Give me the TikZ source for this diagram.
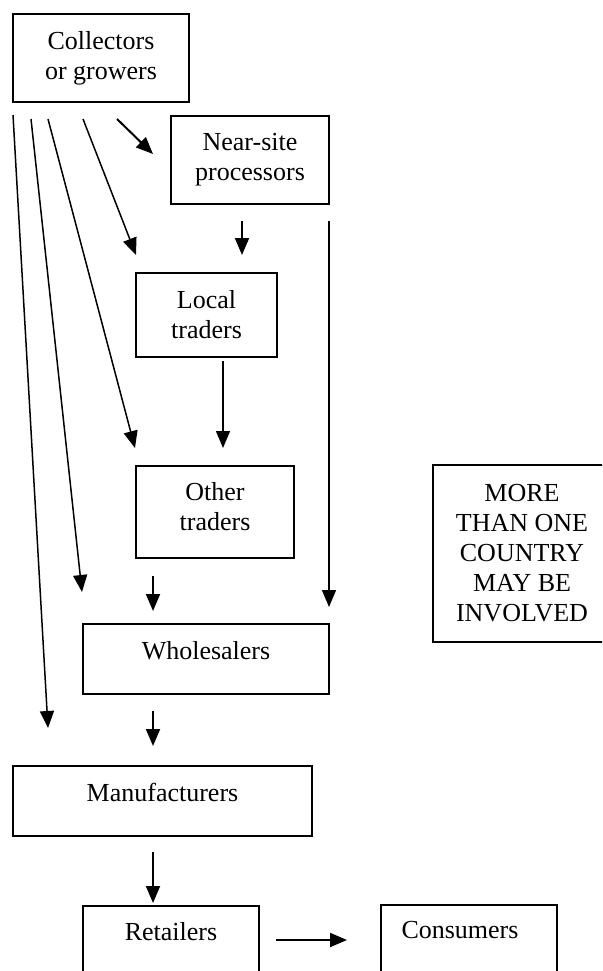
\documentclass[tikz,border=0pt]{standalone}
\usepackage{fontspec}
\setmainfont{Liberation Serif}
\usetikzlibrary{arrows.meta}
\begin{document}
\begin{tikzpicture}[x=1pt,y=-1pt,
  every node/.style={font=\fontsize{26}{30}\selectfont},
  box/.style={draw, line width=1.8pt, inner sep=0pt, align=center},
  topbox/.style={box, text height=35pt, text depth=35pt},
  arr/.style={-{Triangle[length=17pt,width=14pt]}, line width=1.5pt},
  sarr/.style={-{Triangle[length=17pt,width=14pt]}, line width=2pt}]
\useasboundingbox (0,0) rectangle (602,971);
\clip (0,0) rectangle (602,971);
% boxes
\node[box, minimum width=176pt, minimum height=88pt] (coll) at (101,58) {Collectors\\or growers};
\node[box, minimum width=158pt, minimum height=88pt] (ns) at (250,160) {Near-site\\processors};
\node[box, minimum width=141pt, minimum height=84pt] (lt) at (206.5,315) {Local\\traders};
\node[box, minimum width=158pt, minimum height=92pt, text height=46pt, text depth=10pt] (ot) at (215,512) {Other\\traders};
\node[box, draw=none, minimum width=266pt, minimum height=175pt,
      label={[align=center, xshift=-45pt]center:MORE\\THAN ONE\\COUNTRY\\MAY BE\\INVOLVED}] (more) at (567,553.5) {};
\draw[line width=1.8pt] (more.north east) -- (more.north west) -- (more.south west) -- (more.south east);
\node[topbox, minimum width=246pt, minimum height=70pt] (wh) at (206,659) {Wholesalers};
\node[topbox, minimum width=299pt, minimum height=70pt] (man) at (162.5,801) {Manufacturers};
\node[topbox, minimum width=176pt, minimum height=70pt, text height=34pt, text depth=36pt] (ret) at (171,941) {Retailers};
\node[topbox, minimum width=176pt, minimum height=70pt, text height=33pt, text depth=37pt] (con) at (469,940) {Consumers\hspace*{18pt}};
% arrow end points
\coordinate (a1s) at (13,115);  \coordinate (a1e) at (48,728);
\coordinate (a2s) at (31,119);  \coordinate (a2e) at (82,592);
\coordinate (a3s) at (48,119);  \coordinate (a3e) at (135,448);
\coordinate (a4s) at (83,119);  \coordinate (a4e) at (136,255);
\coordinate (a5s) at (117,119); \coordinate (a5e) at (153,154);
\coordinate (nlts) at (242,221); \coordinate (nlte) at (242,255);
\coordinate (ltos) at (223,361); \coordinate (ltoe) at (223,448);
\coordinate (nwls) at (329,221); \coordinate (nwle) at (329,607);
\coordinate (otws) at (153,576); \coordinate (otwe) at (153,611);
\coordinate (whms) at (153,711); \coordinate (whme) at (153,746);
\coordinate (mrs) at (153,852);  \coordinate (mre) at (153,903);
\coordinate (rcs) at (276,940);  \coordinate (rce) at (347,940);
% connectors
\draw[arr] (a1s) -- (a1e);
\draw[arr] (a2s) -- (a2e);
\draw[arr] (a3s) -- (a3e);
\draw[arr] (a4s) -- (a4e);
\draw[sarr] (a5s) -- (a5e);
\draw[sarr] (nlts) -- (nlte);
\draw[arr] (ltos) -- (ltoe);
\draw[arr] (nwls) -- (nwle);
\draw[sarr] (otws) -- (otwe);
\draw[sarr] (whms) -- (whme);
\draw[sarr] (mrs) -- (mre);
\draw[sarr] (rcs) -- (rce);
\end{tikzpicture}
\end{document}
